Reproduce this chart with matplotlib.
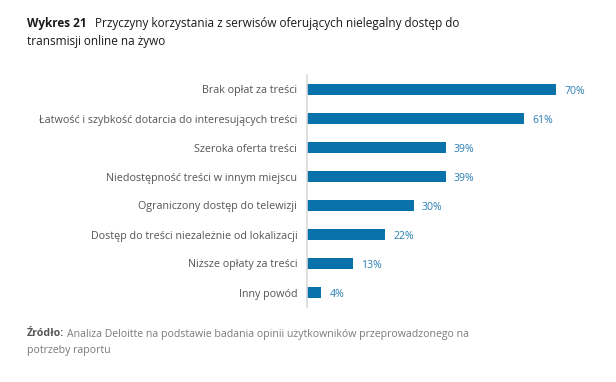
import matplotlib
matplotlib.use("Agg")
import matplotlib.pyplot as plt

categories = [
    "Brak opłat za treści",
    "Łatwość i szybkość dotarcia do interesujących treści",
    "Szeroka oferta treści",
    "Niedostępność treści w innym miejscu",
    "Ograniczony dostęp do telewizji",
    "Dostęp do treści niezależnie od lokalizacji",
    "Niższe opłaty za treści",
    "Inny powód",
]
values = [70, 61, 39, 39, 30, 22, 13, 4]

plt.rcParams["font.family"] = ["Open Sans", "DejaVu Sans"]

W, H = 616, 382
fig = plt.figure(figsize=(W / 100, H / 100), dpi=100)
ax = fig.add_axes([307 / W, 1 - 307 / H, (600 - 307) / W, 232 / H])

bar_color = "#0a72aa"
ypos = list(range(len(categories)))
ax.barh(ypos, values, height=0.36, color=bar_color)
ax.set_ylim(len(categories) - 0.5, -0.5)
ax.set_xlim(0, (600 - 307) / 3.56)

for y, v in zip(ypos, values):
    ax.text(v + 2.3, y + 0.08, f"{v}%", va="center", ha="left",
            fontsize=7.6, color="#2a7fb4")

ax.set_yticks(ypos)
ax.set_yticklabels(categories, fontsize=7.75, color="#555555")
ax.tick_params(axis="y", length=0, pad=7)
ax.set_xticks([])
for s in ["top", "right", "bottom"]:
    ax.spines[s].set_visible(False)
ax.spines["left"].set_color("#d9d9d9")
ax.spines["left"].set_linewidth(1.2)

fig.text(27 / W, 1 - 23 / H, "Wykres 21", fontsize=8.5, fontweight="bold",
         color="#1a1a1a", va="center")
fig.text(95 / W, 1 - 23 / H,
         "Przyczyny korzystania z serwisów oferujących nielegalny dostęp do",
         fontsize=8.5, color="#1a1a1a", va="center")
fig.text(27 / W, 1 - 42 / H, "transmisji online na żywo", fontsize=8.5,
         color="#1a1a1a", va="center")

fig.text(27 / W, 1 - 334 / H, "Źródło:", fontsize=7.6, fontweight="bold",
         color="#555555", va="center")
fig.text(67 / W, 1 - 334 / H,
         "Analiza Deloitte na podstawie badania opinii użytkowników przeprowadzonego na",
         fontsize=7.6, color="#7a7a7a", va="center")
fig.text(27 / W, 1 - 351 / H, "potrzeby raportu", fontsize=7.6,
         color="#7a7a7a", va="center")

fig.savefig("out.png", dpi=100, facecolor="white")
